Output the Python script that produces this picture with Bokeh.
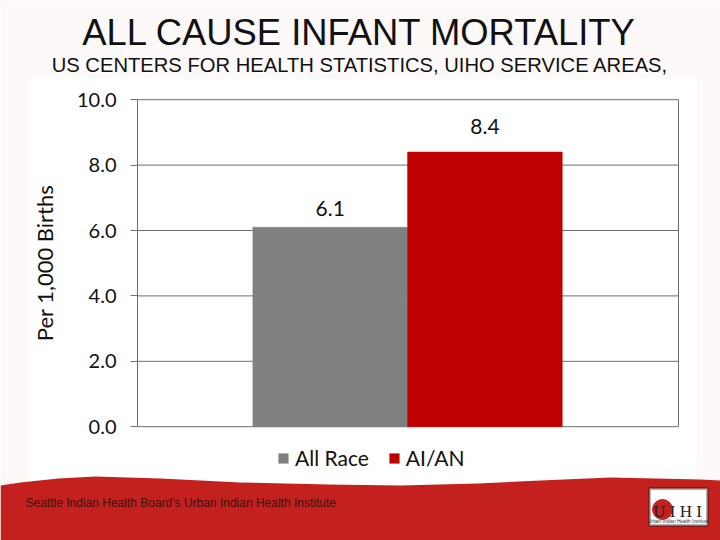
from bokeh.embed import file_html
from bokeh.models import Label, Legend, LegendItem, PolyAnnotation, BoxAnnotation, ColumnDataSource
from bokeh.plotting import figure
from bokeh.resources import INLINE

groups = ["All Race", "AI/AN"]
rates = [6.1, 8.4]
bar_colors = ["#808080", "#bf0000"]
rate_labels = ["6.1", "8.4"]
label_offsets = [-11, -18]
y_ticks = [0, 2, 4, 6, 8, 10]
y_tick_labels = ["0.0", "2.0", "4.0", "6.0", "8.0", "10.0"]

title = "ALL CAUSE INFANT MORTALITY"
subtitle = "US CENTERS FOR HEALTH STATISTICS, UIHO SERVICE AREAS,"
footer = "Seattle Indian Health Board's Urban Indian Health Institute"

# page decoration, in pixels of the page
wave_x = [0, 20, 58, 95, 160, 240, 328, 400, 478, 540, 610, 700, 720]
wave_y = [485, 482, 478, 476, 478, 482, 484, 485, 483, 480, 477, 479, 480]

W, H = 720, 540

# the frame fills the page, so the ranges are set so the chart lands at
# x 137-678, y 100-427, with bars 154.7px wide
PX_PER_Y = 32.7
PX_PER_X = 154.7
X0 = 329.7
Y0 = 426.2


def px_x(px):
    return (px - X0) / PX_PER_X


def px_y(py):
    return (Y0 - py) / PX_PER_Y


source = ColumnDataSource(data=dict(pos=list(range(len(groups))), rate=rates, color=bar_colors,
                                    label=rate_labels, off=label_offsets))

p = figure(width=W, height=H, output_backend="svg", toolbar_location=None,
           x_range=(px_x(0), px_x(W)), y_range=(px_y(H), px_y(0)),
           x_axis_location=None,
           min_border=0, min_border_left=0, min_border_right=0, min_border_top=0, min_border_bottom=0)
p.grid.visible = False
p.background_fill_color = "#fdf9f8"
p.border_fill_color = "#fdf9f8"
p.outline_line_color = None


def box(left, right, top, bottom, **kw):
    p.add_layout(BoxAnnotation(left=left, right=right, top=H - top, bottom=H - bottom,
                               left_units="screen", right_units="screen", top_units="screen", bottom_units="screen",
                               **kw))


def text(x, y, s, font="Liberation Sans", size=12, color="#111111", align="center"):
    p.add_layout(Label(x=x, y=H - y, x_units="screen", y_units="screen", text=s, text_font=font,
                       text_font_size=f"{size}px", text_color=color, text_align=align, text_baseline="middle"))


# white panel behind the chart
box(30, 696, 78, 490, fill_color="white", fill_alpha=1, line_color=None, level="underlay")
# red band
p.add_layout(PolyAnnotation(xs=wave_x + [W, 0], ys=[H - y for y in wave_y] + [0, 0],
                            xs_units="screen", ys_units="screen",
                            fill_color="#c4201e", fill_alpha=1, line_color=None, level="underlay"))
# logo
box(649, 707, 488, 525, fill_color="white", fill_alpha=1, line_color="black", line_width=3, level="underlay")

# gridlines and the right side of the frame
p.segment(x0=px_x(137), x1=px_x(678), y0=y_ticks, y1=y_ticks, line_color="#6e6e6e", line_width=1)
p.segment(x0=px_x(678), x1=px_x(678), y0=0, y1=10, line_color="#6e6e6e", line_width=1)

bars = p.vbar(x="pos", top="rate", width=1.0, source=source, fill_color="color", line_color="color", line_width=0.5)
p.text(x="pos", y="rate", text="label", source=source, text_font={"value": "Lato"}, text_font_size="21px",
       text_color="#111111", text_align="center", text_baseline="bottom", y_offset="off")

ax = p.yaxis[0]
ax.fixed_location = px_x(137)
ax.bounds = (0, 10)
ax.ticker = y_ticks
ax.major_label_overrides = dict(zip(y_ticks, y_tick_labels))
ax.axis_label = "Per 1,000 Births"
ax.axis_label_standoff = 16
ax.axis_label_text_font = "Lato"
ax.axis_label_text_font_style = "normal"
ax.axis_label_text_font_size = "22px"
ax.axis_label_text_color = "#111111"
ax.major_label_text_font = "Lato"
ax.major_label_text_font_size = "20px"
ax.major_label_text_color = "#111111"
ax.major_label_standoff = 14
ax.axis_line_color = "#6e6e6e"
ax.major_tick_line_color = "#6e6e6e"
ax.major_tick_out = 7
ax.major_tick_in = 0
ax.minor_tick_line_color = None

legend = Legend(items=[LegendItem(label=g, renderers=[bars], index=i) for i, g in enumerate(groups)],
                orientation="horizontal", location=(277, 70), background_fill_alpha=0, border_line_color=None,
                label_text_font="Lato", label_text_font_size="21px", label_text_color="#111111",
                glyph_width=12, glyph_height=12, spacing=19, label_standoff=6, margin=0, padding=0)
p.add_layout(legend, "center")

text(359, 32, title, size=36.4)
text(359.5, 64, subtitle, size=20.2)
text(25, 502, footer, color="#3a1010", align="left")

p.scatter(x=[px_x(662)], y=[px_y(509)], size=20, marker="circle", color="#c4201e")
text(677, 511, "U I H I", font="Liberation Serif", size=17, color="#222222")
text(678, 521, "Urban Indian Health Institute", size=4.8, color="#333333")

open("out.html", "w").write(file_html(p, INLINE))
